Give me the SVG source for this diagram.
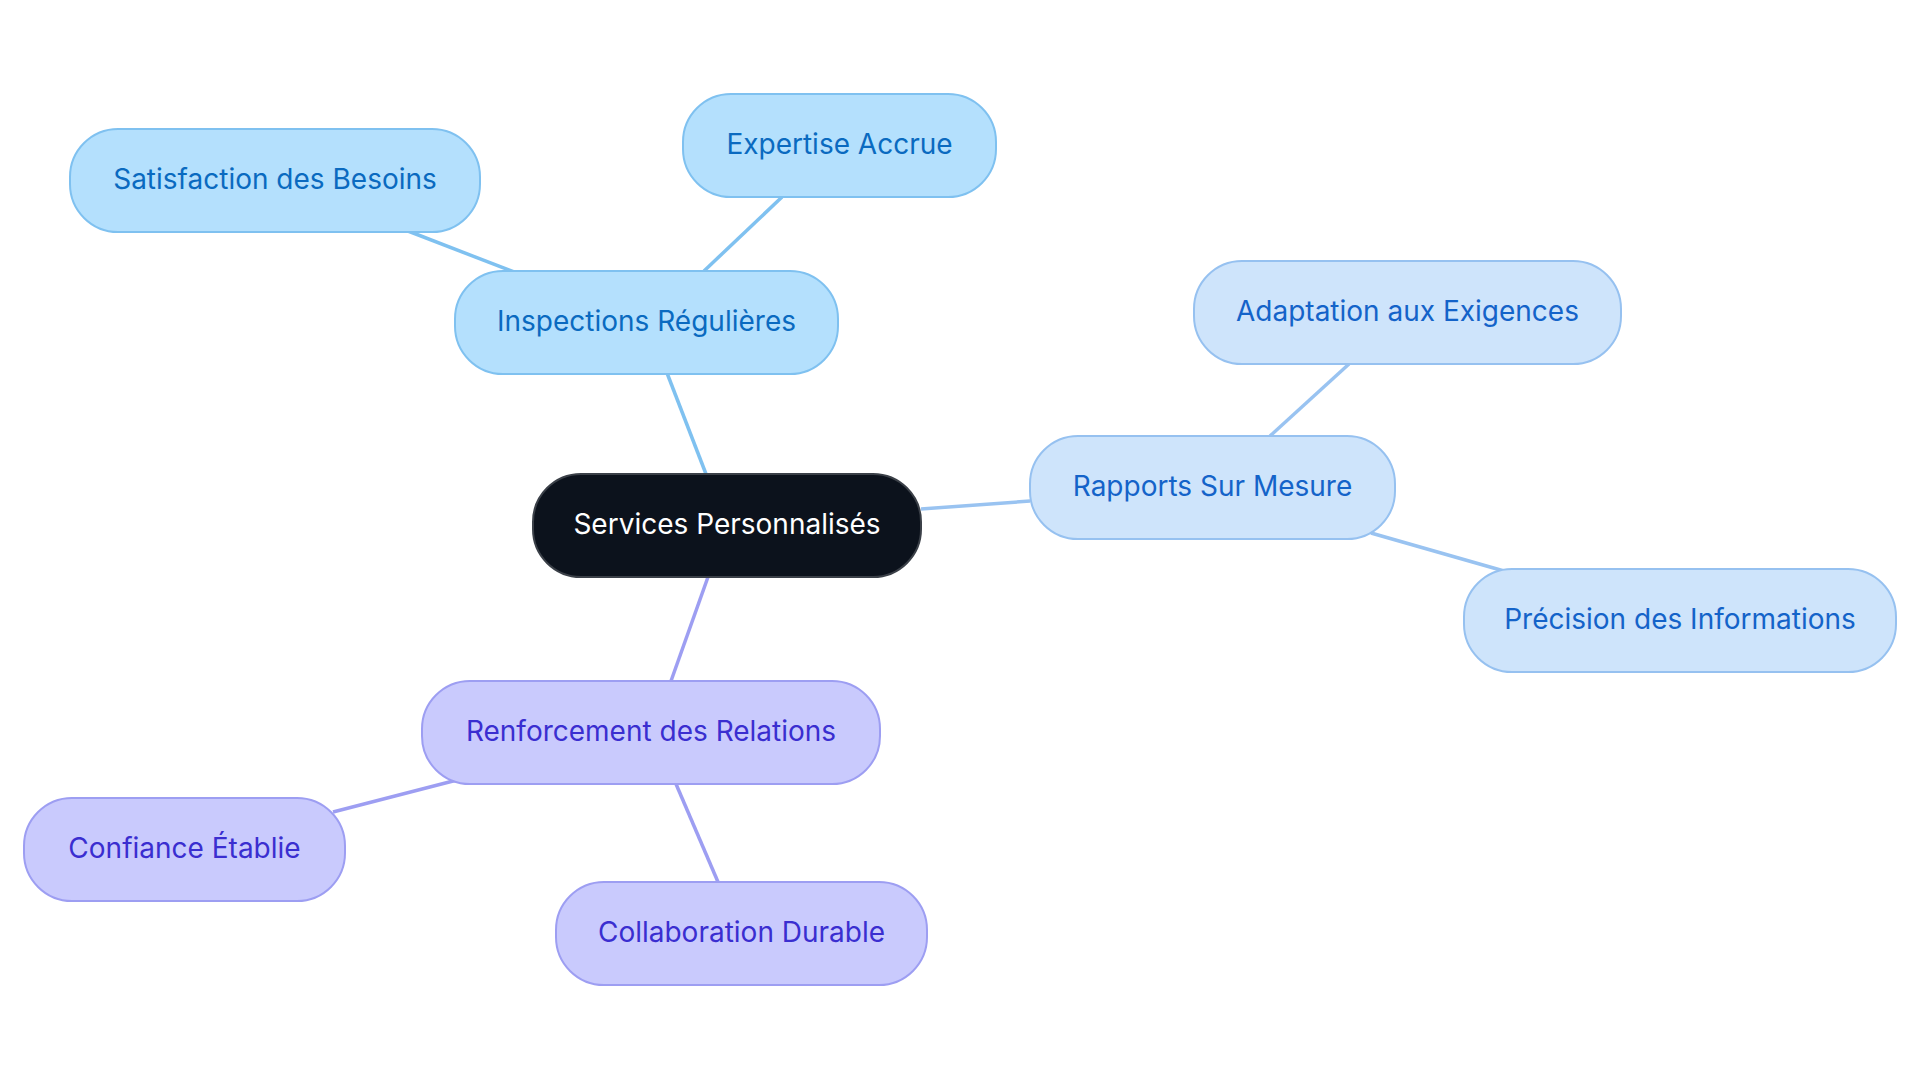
<svg xmlns="http://www.w3.org/2000/svg" width="1920" height="1083" viewBox="0 0 1920 1083">
<style>
text{font-family:Inter,"Noto Sans","Liberation Sans",sans-serif;font-size:28px;text-anchor:middle;dominant-baseline:central}
.c rect{fill:#0c121c;stroke:#3b4048;stroke-width:2}
.c text{fill:#ffffff}
.a rect{fill:#b4e0fd;stroke:#7fc1f0;stroke-width:2}
.a text{fill:#0a6ac0}
.b rect{fill:#cee4fb;stroke:#96c1f0;stroke-width:2}
.b text{fill:#1463c9}
.p rect{fill:#c9cafd;stroke:#9d9ef2;stroke-width:2}
.p text{fill:#3a2ed0}
.la{stroke:#7fc1f0;stroke-width:3.5;fill:none}
.lb{stroke:#99c3f1;stroke-width:3.5;fill:none}
.lp{stroke:#9d9ef2;stroke-width:3.5;fill:none}
</style>
<rect width="1920" height="1083" fill="#ffffff"/>
<g id="connectors">
<line class="la" x1="706" y1="474" x2="667" y2="373"/>
<line class="la" x1="514" y1="272" x2="408" y2="231"/>
<line class="la" x1="704" y1="271" x2="782" y2="197"/>
<line class="lb" x1="921" y1="509" x2="1030" y2="501"/>
<line class="lb" x1="1270" y1="436" x2="1349" y2="364"/>
<line class="lb" x1="1371" y1="533" x2="1504" y2="571"/>
<line class="lp" x1="708" y1="577" x2="671" y2="681"/>
<line class="lp" x1="457" y1="780" x2="333" y2="812"/>
<line class="lp" x1="676" y1="784" x2="718" y2="882"/>
</g>
<g id="services" class="c"><rect x="533" y="474" width="388" height="103" rx="48"/><text x="727" y="524">Services Personnalisés</text></g>
<g id="inspections" class="a"><rect x="455" y="271" width="383" height="103" rx="48"/><text x="646.5" y="321">Inspections Régulières</text></g>
<g id="satisfaction" class="a"><rect x="70" y="129" width="410" height="103" rx="48"/><text x="275" y="179">Satisfaction des Besoins</text></g>
<g id="expertise" class="a"><rect x="683" y="94" width="313" height="103" rx="48"/><text x="839.5" y="144">Expertise Accrue</text></g>
<g id="rapports" class="b"><rect x="1030" y="436" width="365" height="103" rx="48"/><text x="1212.5" y="486">Rapports Sur Mesure</text></g>
<g id="adaptation" class="b"><rect x="1194" y="261" width="427" height="103" rx="48"/><text x="1407.5" y="311">Adaptation aux Exigences</text></g>
<g id="precision" class="b"><rect x="1464" y="569" width="432" height="103" rx="48"/><text x="1680" y="619">Précision des Informations</text></g>
<g id="renforcement" class="p"><rect x="422" y="681" width="458" height="103" rx="48"/><text x="651" y="731">Renforcement des Relations</text></g>
<g id="confiance" class="p"><rect x="24" y="798" width="321" height="103" rx="48"/><text x="184.5" y="848">Confiance Établie</text></g>
<g id="collaboration" class="p"><rect x="556" y="882" width="371" height="103" rx="48"/><text x="741.5" y="932">Collaboration Durable</text></g>
</svg>
